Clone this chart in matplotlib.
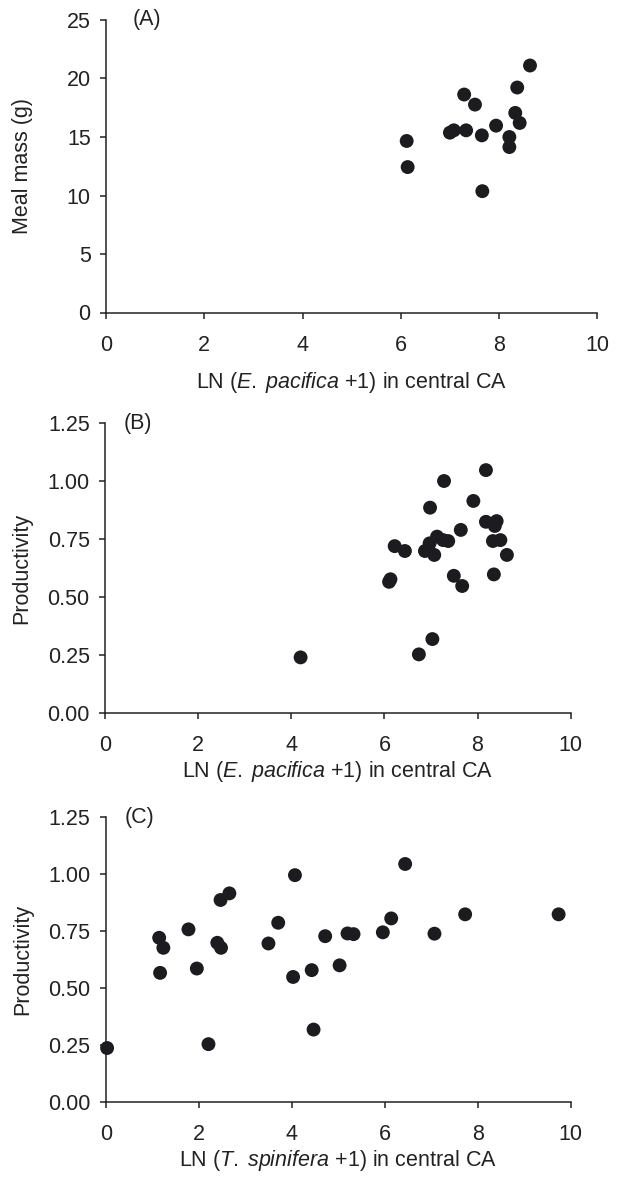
import matplotlib
matplotlib.use("Agg")
import matplotlib.pyplot as plt

plt.rcParams['font.family'] = ['Liberation Sans', 'DejaVu Sans']
plt.rcParams['mathtext.fontset'] = 'custom'
plt.rcParams['mathtext.rm'] = 'Liberation Sans'
plt.rcParams['mathtext.it'] = 'Liberation Sans:italic'

# (A) meal mass vs E. pacifica
a_x = [6.12, 6.14, 7.00, 7.08, 7.33, 7.29, 7.51, 7.65, 7.66, 7.94,
       8.21, 8.21, 8.33, 8.37, 8.42, 8.63]
a_y = [14.66, 12.43, 15.37, 15.57, 15.57, 18.63, 17.77, 15.14, 10.37, 15.97,
       15.00, 14.14, 17.06, 19.23, 16.20, 21.11]

# (B) productivity vs E. pacifica
b_x = [8.18, 7.28, 7.91, 6.98, 8.18, 8.41, 8.37, 7.64, 6.22, 6.44,
       7.13, 6.97, 6.87, 7.07, 7.37, 7.26, 8.33, 8.49, 8.63, 6.13,
       6.10, 7.49, 7.67, 8.35, 7.03, 6.74, 4.20]
b_y = [1.048, 1.001, 0.915, 0.886, 0.825, 0.828, 0.807, 0.790, 0.720, 0.699,
       0.761, 0.732, 0.699, 0.682, 0.742, 0.746, 0.742, 0.746, 0.682, 0.577,
       0.566, 0.592, 0.548, 0.598, 0.319, 0.253, 0.240]

# (C) productivity vs T. spinifera
c_x = [0.03, 1.15, 1.24, 1.17, 1.78, 1.96, 2.21, 2.47, 2.66, 2.40,
       2.48, 3.50, 3.71, 4.07, 4.03, 4.43, 4.47, 4.72, 5.03, 5.20,
       5.33, 5.96, 6.14, 6.44, 7.07, 7.73, 9.74]
c_y = [0.237, 0.721, 0.677, 0.567, 0.758, 0.586, 0.254, 0.887, 0.916, 0.699,
       0.677, 0.696, 0.787, 0.996, 0.549, 0.579, 0.318, 0.728, 0.600, 0.740,
       0.737, 0.745, 0.806, 1.045, 0.739, 0.824, 0.824]

x_ticks = [0, 2, 4, 6, 8, 10]
mass_ticks = [0, 5, 10, 15, 20, 25]
prod_ticks = [0.0, 0.25, 0.5, 0.75, 1.0, 1.25]

W, H = 619, 1178
fs = 15.5
fig = plt.figure(figsize=(W / 100, H / 100), dpi=100)

def px_axes(left, right, top, bottom):
    return fig.add_axes([left / W, 1 - bottom / H, (right - left) / W, (bottom - top) / H])

panels = [
    (px_axes(106, 597.3, 20, 312.5), a_x, a_y, (0, 25), mass_ticks, None,
     'Meal mass (g)', r'LN ($\mathit{E.\;pacifica}$ +1) in central CA', '(A)', 0.054, -0.148, 10),
    (px_axes(105, 570.7, 423.3, 713), b_x, b_y, (0, 1.25), prod_ticks, '%.2f',
     'Productivity', r'LN ($\mathit{E.\;pacifica}$ +1) in central CA', '(B)', 0.04, -0.156, 2),
    (px_axes(105.7, 570.7, 817.3, 1102), c_x, c_y, (0, 1.25), prod_ticks, '%.2f',
     'Productivity', r'LN ($\mathit{T.\;spinifera}$ +1) in central CA', '(C)', 0.04, -0.156, 2),
]

ink = '#222222'
for ax, xs, ys, ylim, yticks, fmt, ylab, xlab, tag, tag_x, ylab_x, xpad in panels:
    ax.scatter(xs, ys, s=100, color='#1c1c20', edgecolors='none', zorder=3, clip_on=False)
    ax.set_xlim(0, 10)
    ax.set_ylim(*ylim)
    ax.set_xticks(x_ticks)
    ax.set_yticks(yticks)
    if fmt:
        ax.set_yticklabels([fmt % t for t in yticks])
    for side in ('top', 'right'):
        ax.spines[side].set_visible(False)
    for side in ('left', 'bottom'):
        ax.spines[side].set_linewidth(1.1)
        ax.spines[side].set_color(ink)
    ax.tick_params(axis='both', direction='out', length=4, width=1.1, color=ink,
                   labelsize=fs, labelcolor=ink)
    ax.tick_params(axis='x', pad=12)
    ax.tick_params(axis='y', pad=7)
    ax.set_ylabel(ylab, fontsize=fs, color=ink)
    ax.yaxis.set_label_coords(ylab_x, 0.5)
    ax.set_xlabel(xlab, fontsize=fs, color=ink, labelpad=xpad)
    ax.text(tag_x, 1.0, tag, transform=ax.transAxes, fontsize=fs, color=ink,
            ha='left', va='center')

fig.savefig('out.png', dpi=100)
